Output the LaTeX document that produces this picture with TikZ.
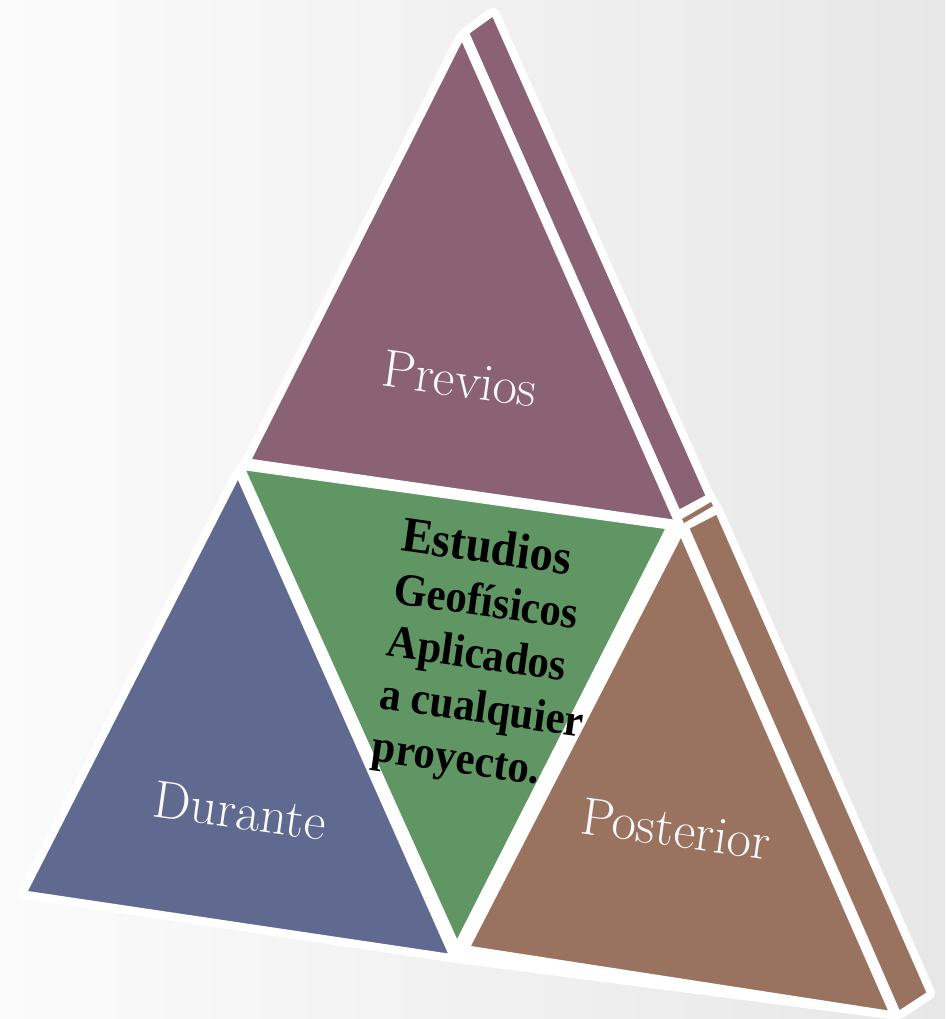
\documentclass[tikz,border=0pt]{standalone}
\usepackage{fontspec}
\newfontfamily\timesbold{Liberation Serif}[BoldFont={* Bold}, BoldFeatures={FakeStretch=0.93}]
\begin{document}
\begin{tikzpicture}[x=1pt,y=-1pt]
\definecolor{cprev}{RGB}{138,98,115}
\definecolor{cdur}{RGB}{96,106,145}
\definecolor{cgreen}{RGB}{96,150,99}
\definecolor{cpost}{RGB}{153,115,96}
\definecolor{bgl}{RGB}{251,251,251}
\definecolor{bgr}{RGB}{231,231,231}
\tikzset{
  rim/.style={draw=white, fill=white, line width=14pt, line join=round},
  face/.style={draw=white, line width=2.5pt, line join=round},
  lbl/.style={text=white!95!gray, font=\fontsize{53}{56}\selectfont, rotate=-8, inner sep=0pt},
}
\useasboundingbox (0,0) rectangle (945,1019);
\shade[left color=bgl, right color=bgr] (0,0) rectangle (945,1019);
% white underlay (rim of the whole pyramid)
\path[rim] (462,39) -- (468,33) -- (493,15) -- (707,496) -- (713,506) -- (717,513)
  -- (928,993) -- (899,1012) -- (890,1012) -- (450,955) -- (26,892) -- (238,477)
  -- (250,460) -- cycle;
% side strips
\fill[face, fill=cprev] (468,33) -- (493,15) -- (707,496) -- (679,511) -- cycle;
\fill[fill=cpost] (682,519) -- (711,502) -- (713,506) -- (684,523) -- cycle;
\fill[face, fill=cpost] (688,528) -- (717,513) -- (928,993) -- (899,1012) -- cycle;
% faces
\fill[face, fill=cprev] (462,39) coordinate (pa) -- (250,460) coordinate (pb) -- (675,521) coordinate (pc) -- cycle;
\fill[face, fill=cdur] (238,477) coordinate (da) -- (26,892) coordinate (db) -- (450,955) coordinate (dc) -- cycle;
\fill[face, fill=cgreen] (244,469) coordinate (ga) -- (667,528) coordinate (gb) -- (457,942) coordinate (gc) -- cycle;
\fill[face, fill=cpost] (681,535) coordinate (qa) -- (469,947) coordinate (qb) -- (890,1012) coordinate (qc) -- cycle;
% labels
\node[lbl] (previos) at (460,379) {Previos};
\node[lbl] (durante) at (240,811) {Durante};
\node[lbl] (posterior) at (676,829) {Posterior};
\node[rotate=-8, align=left, inner sep=0pt, text=black,
      font=\timesbold\bfseries\fontsize{46}{53}\selectfont] (centro) at (489,658)
  {{\fontsize{50}{53}\selectfont Estudios}\\Geofísicos\\Aplicados\\a cualquier\\proyecto.};
\end{tikzpicture}
\end{document}
